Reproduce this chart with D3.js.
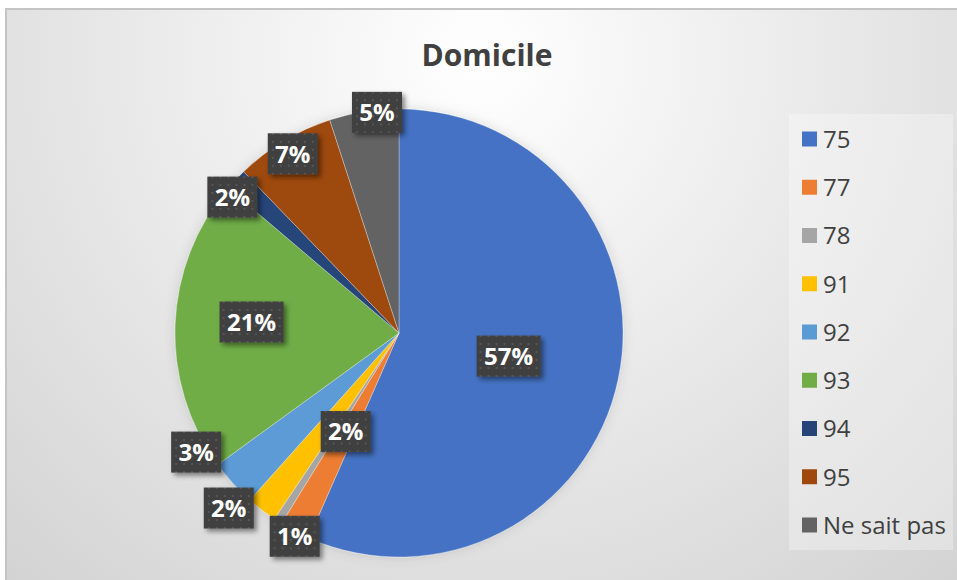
<!DOCTYPE html>
<html>
<head>
<meta charset="utf-8">
<script src="https://cdn.jsdelivr.net/npm/d3@7"></script>
<style>
  html, body { margin: 0; padding: 0; background: #ffffff; }
  svg { display: block; }
</style>
</head>
<body>
<div id="chart"></div>
<script>
// données
const categories = ["75", "77", "78", "91", "92", "93", "94", "95", "Ne sait pas"];
const values = [56.6, 2.2, 0.6, 2.2, 3.4, 21.2, 1.6, 7.2, 5.0];
const labels = ["57%", "2%", "1%", "2%", "3%", "21%", "2%", "7%", "5%"];
const colors = ["#4472C4", "#ED7D31", "#A5A5A5", "#FFC000", "#5B9BD5", "#70AD47", "#264478", "#9E480E", "#636363"];
// placement des étiquettes : [fraction du rayon, décalage en degrés]
const labelPlacement = [[0.5, 0], [0.5, 0.7], [1.02, -5.6], [1.09, 6.4], [1.05, 11.7], [0.66, 2.1], [0.96, -4], [0.93, 0.3], [0.99, 3.3]];

const width = 957, height = 580;
const cx = 399, cy = 333, radius = 224;

const svg = d3.select("#chart").append("svg")
    .attr("width", width)
    .attr("height", height);

const defs = svg.append("defs");

// fond dégradé
const bg = defs.append("radialGradient")
    .attr("id", "bg")
    .attr("gradientUnits", "userSpaceOnUse")
    .attr("cx", 480).attr("cy", 60).attr("r", 720);
bg.append("stop").attr("offset", "0%").attr("stop-color", "#ffffff");
bg.append("stop").attr("offset", "100%").attr("stop-color", "#d2d2d2");

// motif pointillé des étiquettes
const pat = defs.append("pattern")
    .attr("id", "dots")
    .attr("patternUnits", "userSpaceOnUse")
    .attr("width", 8).attr("height", 8);
pat.append("rect").attr("width", 8).attr("height", 8).attr("fill", "#3f3f3f");
pat.append("rect").attr("x", 3).attr("y", 3).attr("width", 2).attr("height", 2).attr("fill", "#575757");

const shadow = defs.append("filter").attr("id", "shadow")
    .attr("x", "-30%").attr("y", "-30%").attr("width", "160%").attr("height", "160%");
shadow.append("feDropShadow")
    .attr("dx", 3).attr("dy", 3).attr("stdDeviation", 2.5)
    .attr("flood-color", "#000").attr("flood-opacity", 0.45);

const glow = defs.append("filter").attr("id", "glow")
    .attr("x", "-20%").attr("y", "-20%").attr("width", "140%").attr("height", "140%");
glow.append("feDropShadow")
    .attr("dx", 0).attr("dy", 0).attr("stdDeviation", 6)
    .attr("flood-color", "#000").attr("flood-opacity", 0.12);

svg.append("rect")
    .attr("x", 6).attr("y", 9)
    .attr("width", width).attr("height", height)
    .attr("fill", "url(#bg)")
    .attr("stroke", "#c4c4c4")
    .attr("stroke-width", 2);

// titre
svg.append("text")
    .attr("x", 487).attr("y", 66)
    .attr("text-anchor", "middle")
    .attr("font-family", "Open Sans")
    .attr("font-weight", "bold")
    .attr("font-size", 30)
    .attr("fill", "#404040")
    .text("Domicile");

const color = d3.scaleOrdinal().domain(categories).range(colors);

const pie = d3.pie().sort(null).value(d => d.value);
const arc = d3.arc().innerRadius(0).outerRadius(radius);
const data = categories.map((c, i) => ({ cat: c, value: values[i], label: labels[i], place: labelPlacement[i] }));
const arcs = pie(data);

const g = svg.append("g").attr("transform", `translate(${cx},${cy})`);

g.append("g").attr("filter", "url(#glow)")
  .selectAll("path")
  .data(arcs)
  .join("path")
    .attr("d", arc)
    .attr("fill", d => color(d.data.cat))
    .attr("stroke", "#ffffff")
    .attr("stroke-opacity", 0.5)
    .attr("stroke-width", 0.6);

// étiquettes
const lab = g.selectAll("g.lab")
  .data(arcs)
  .join("g")
    .attr("class", "lab")
    .attr("transform", d => {
        const a = (d.startAngle + d.endAngle) / 2 + d.data.place[1] * Math.PI / 180;
        const r = radius * d.data.place[0];
        return `translate(${r * Math.sin(a)},${-r * Math.cos(a)})`;
    });

lab.append("rect")
    .attr("x", d => d.data.label.length > 2 ? -32 : -25)
    .attr("y", -20.5)
    .attr("width", d => d.data.label.length > 2 ? 64 : 50)
    .attr("height", 41)
    .attr("fill", "url(#dots)")
    .attr("filter", "url(#shadow)");

lab.append("text")
    .attr("text-anchor", "middle")
    .attr("dy", "0.37em")
    .attr("font-family", "Open Sans")
    .attr("font-weight", "bold")
    .attr("font-size", 24)
    .attr("fill", "#ffffff")
    .text(d => d.data.label);

// légende
svg.append("rect")
    .attr("x", 789).attr("y", 114)
    .attr("width", 164).attr("height", 436)
    .attr("fill", "#ffffff")
    .attr("fill-opacity", 0.3);

const ly = d3.scalePoint().domain(categories).range([139, 525]);

const leg = svg.append("g").selectAll("g")
  .data(categories)
  .join("g")
    .attr("transform", d => `translate(802,${ly(d)})`);

leg.append("rect")
    .attr("x", 0).attr("y", -7.5)
    .attr("width", 15).attr("height", 15)
    .attr("fill", d => color(d));

leg.append("text")
    .attr("x", 21)
    .attr("dy", "0.37em")
    .attr("font-family", "Open Sans")
    .attr("font-size", 24)
    .attr("fill", "#404040")
    .text(d => d);
</script>
</body>
</html>
